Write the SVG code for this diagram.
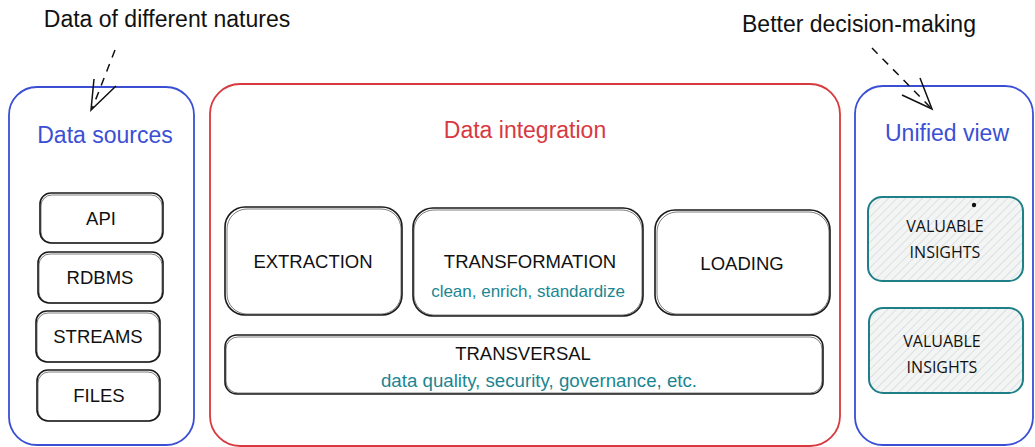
<svg xmlns="http://www.w3.org/2000/svg" width="1035" height="447" viewBox="0 0 1035 447">
<defs>
<pattern id="hatch" patternUnits="userSpaceOnUse" width="6" height="6" patternTransform="rotate(45)">
<rect width="6" height="6" fill="#f3f5f5"/>
<line x1="0" y1="0" x2="0" y2="6" stroke="#cfd2d2" stroke-width="1.2"/>
</pattern>
</defs>
<style>
.lbl{font-family:"Liberation Sans",Arial,sans-serif;fill:#111;text-anchor:middle;font-size:18.5px}
.sub{font-family:"Liberation Sans",Arial,sans-serif;fill:#1b8691;text-anchor:middle;font-size:17px}
.sub2{font-size:18.7px}
.ttl{font-family:"Liberation Sans",Arial,sans-serif;font-size:23px;text-anchor:middle}
.box{fill:#fff;stroke:#1a1a1a;stroke-width:1.6}
.box2{fill:none;stroke:#1a1a1a;stroke-width:0.8;opacity:0.7}
.ins{fill:url(#hatch);stroke:#1e7f86;stroke-width:2}
.ins-t{font-family:"Open Sans","Noto Sans",sans-serif;font-size:16px;fill:#111;text-anchor:middle}
.arr{fill:none;stroke:#111;stroke-width:1.5}
</style>
<rect width="1035" height="447" fill="#fff"/>

<g id="note-left"><text class="ttl" x="167" y="27" fill="#111">Data of different natures</text></g>
<g id="note-right"><text class="ttl" x="859" y="32" fill="#111">Better decision-making</text></g>

<g id="data-sources">
<rect x="9" y="87" width="185" height="358" rx="28" fill="none" stroke="#3b4fd4" stroke-width="1.8"/>
<text class="ttl" x="105" y="143" fill="#3b4fd4">Data sources</text>
</g>
<g id="api"><rect class="box" x="40" y="193" width="123" height="50" rx="11"/><rect class="box2" x="41" y="195" width="121" height="48" rx="11"/><text class="lbl" x="101" y="225">API</text></g>
<g id="rdbms"><rect class="box" x="38" y="252" width="125" height="51" rx="11"/><rect class="box2" x="39" y="254" width="123" height="49" rx="11"/><text class="lbl" x="100" y="284">RDBMS</text></g>
<g id="streams"><rect class="box" x="36" y="311" width="124" height="51" rx="11"/><rect class="box2" x="37" y="313" width="122" height="49" rx="11"/><text class="lbl" x="98" y="343">STREAMS</text></g>
<g id="files"><rect class="box" x="37" y="370" width="123" height="51" rx="11"/><rect class="box2" x="38" y="372" width="121" height="49" rx="11"/><text class="lbl" x="99" y="402">FILES</text></g>

<g id="data-integration">
<rect x="210" y="84" width="630" height="362" rx="30" fill="none" stroke="#d8393f" stroke-width="1.8"/>
<text class="ttl" x="525" y="138" fill="#d8393f">Data integration</text>
</g>
<g id="extraction"><rect class="box" x="225" y="207" width="177" height="108" rx="20"/><rect class="box2" x="227" y="209" width="174" height="105" rx="20"/><text class="lbl" x="313" y="268">EXTRACTION</text></g>
<g id="transformation"><rect class="box" x="413" y="208" width="230" height="108" rx="20"/><rect class="box2" x="414" y="210" width="228" height="105" rx="20"/><text class="lbl" x="530" y="268">TRANSFORMATION</text><text class="sub" x="528" y="297">clean, enrich, standardize</text></g>
<g id="loading"><rect class="box" x="655" y="210" width="175" height="105" rx="20"/><rect class="box2" x="657" y="212" width="172" height="102" rx="20"/><text class="lbl" x="742" y="270">LOADING</text></g>
<g id="transversal"><rect class="box" x="225" y="335" width="598" height="59" rx="12"/><rect class="box2" x="226" y="337" width="596" height="56" rx="12"/><text class="lbl" x="523" y="360">TRANSVERSAL</text><text class="sub sub2" x="539" y="387">data quality, security, governance, etc.</text></g>

<g id="unified-view">
<rect x="855" y="86" width="178" height="359" rx="28" fill="none" stroke="#3b4fd4" stroke-width="1.8"/>
<text class="ttl" x="947" y="141" fill="#3b4fd4">Unified view</text>
</g>
<g id="insights-1"><rect class="ins" x="868" y="197" width="155" height="84" rx="14"/><circle cx="974" cy="205" r="2.2" fill="#111"/><text class="ins-t" x="945" y="232">VALUABLE</text><text class="ins-t" x="945" y="258">INSIGHTS</text></g>
<g id="insights-2"><rect class="ins" x="869" y="308" width="154" height="85" rx="14"/><text class="ins-t" x="942" y="347">VALUABLE</text><text class="ins-t" x="942" y="373">INSIGHTS</text></g>

<g id="connectors">
<path class="arr" d="M115 50 L92 109" stroke-dasharray="8 7"/>
<path class="arr" d="M94 79 L91 110 L116 86"/>
<path class="arr" d="M872 48 L931 108" stroke-dasharray="8 7"/>
<path class="arr" d="M920 78 L932 109 L902 95"/>
</g>
</svg>
